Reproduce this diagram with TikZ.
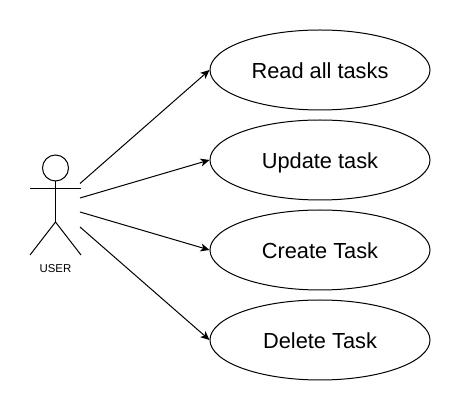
\documentclass[tikz,border=0pt]{standalone}
\usepackage{fontspec}
\setmainfont{Liberation Sans}
\usetikzlibrary{arrows.meta,shapes.geometric}
\tikzset{
    usecase/.style={shape=ellipse, draw=black, line width=1pt, minimum width=220pt, minimum height=80pt, inner sep=0pt, text height=16.2pt, text depth=0pt, font=\fontsize{21.8}{26}\selectfont},
    actorline/.style={draw=black, line width=1pt},
    assoc/.style={draw=black, line width=1pt, -{Stealth[length=9pt, width=8pt, inset=2.5pt]}}
}
\begin{document}
\begin{tikzpicture}[x=1pt, y=-1pt]
                \useasboundingbox (0, 0) rectangle (461, 411);

                \node[usecase] (R) at (320, 70) {Read all tasks};
                \node[usecase] (U) at (320, 160) {Update task};
                \node[usecase] (C) at (320, 250) {Create Task};
                \node[usecase] (D) at (320, 340) {Delete Task};

                \node[shape=circle, draw=black, line width=1pt, minimum size=26pt, inner sep=0pt] (head) at (55.5, 168) {};
                \coordinate (hip) at (55.5, 222);
                \coordinate (armL) at (30, 188.6);
                \coordinate (armR) at (81, 188.6);
                \coordinate (footL) at (30, 255);
                \coordinate (footR) at (81, 255);
                \node[font=\fontsize{11.4}{14}\selectfont] (user) at (55.5, 269) {USER};

                \draw[actorline] (head) -- (hip);
                \draw[actorline] (armL) -- (armR);
                \draw[actorline] (footL) -- (hip) -- (footR);

                \coordinate (S1) at (80, 183.5);
                \coordinate (S2) at (80, 198);
                \coordinate (S3) at (80, 212);
                \coordinate (S4) at (80, 227);

                \draw[assoc] (S1) -- (R.west);
                \draw[assoc] (S2) -- (U.west);
                \draw[assoc] (S3) -- (C.west);
                \draw[assoc] (S4) -- (D.west);

            \end{tikzpicture}
\end{document}
